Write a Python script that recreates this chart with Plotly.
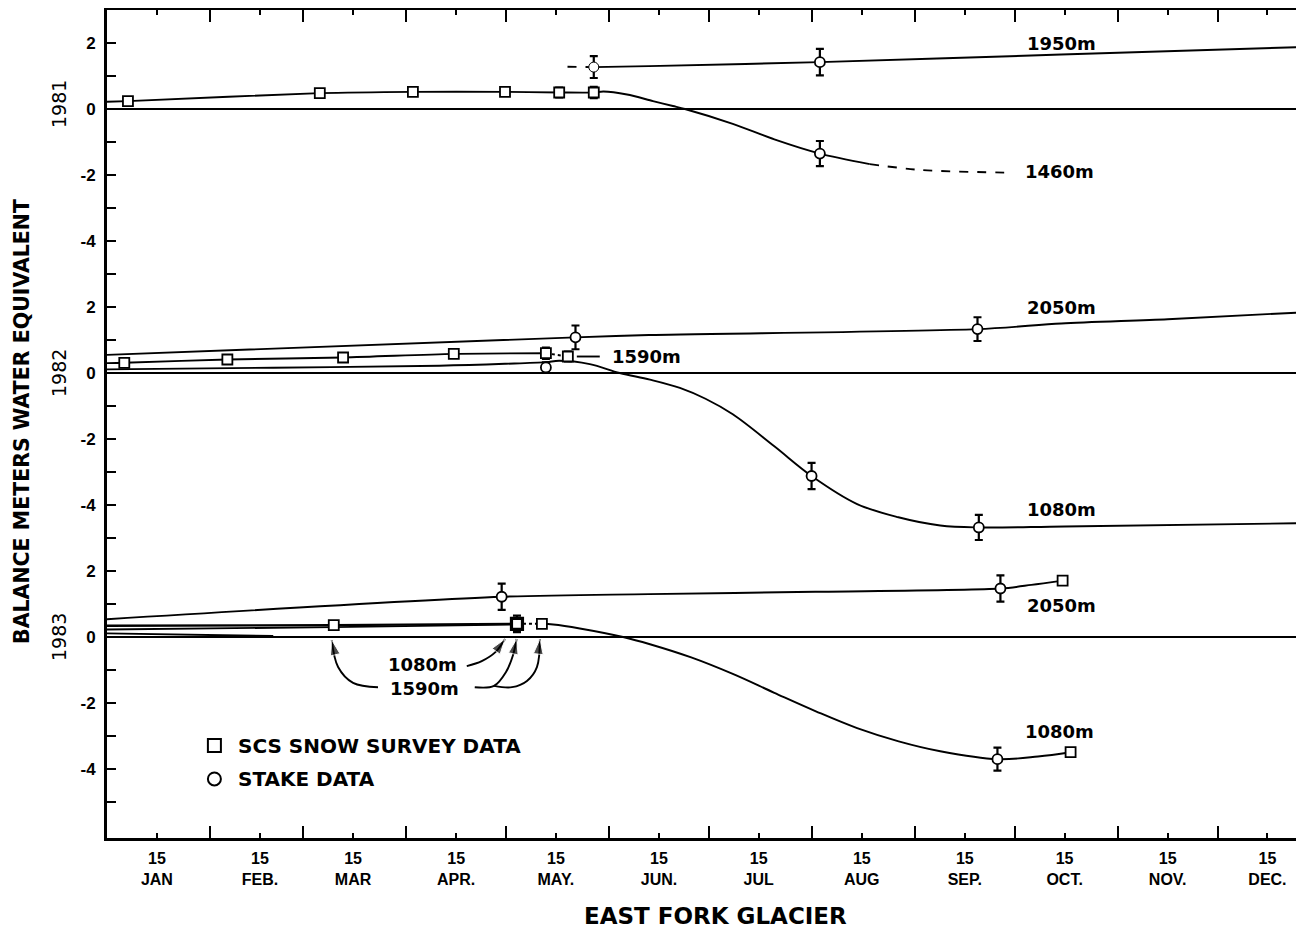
import plotly.graph_objects as go

# ---------------- data ----------------
month_names = ["JAN", "FEB.", "MAR", "APR.", "MAY.", "JUN.", "JUL", "AUG", "SEP.", "OCT.", "NOV.", "DEC."]
month_start_days = [31, 59, 90, 120, 151, 181, 212, 243, 273, 304, 334]
mid_month_days = [15, 46, 74, 105, 135, 166, 196, 227, 258, 288, 319, 349]
years = ["1981", "1982", "1983"]
year_offsets = [16, 8, 0]          # vertical stacking of the three year panels
panel_tick_labels = [-4, -2, 0, 2]

# ---- 1981 ----
d81_1950_est = [138.5, 146.4]
v81_1950_est = [1.28, 1.27]
d81_1950 = [146.4, 163, 214.4, 287, 360]
v81_1950 = [1.27, 1.30, 1.42, 1.65, 1.88]
d81_1460 = [0, 6.3, 64, 92, 119.7, 136, 146.4, 149.3, 156.4, 164.2, 170.2, 173.8, 188.2, 200.7, 214.4, 229.4]
v81_1460 = [0.22, 0.24, 0.48, 0.52, 0.52, 0.50, 0.50, 0.53, 0.44, 0.24, 0.09, 0.0, -0.45, -0.92, -1.35, -1.67]
d81_1460_est = [229.4, 245, 272]
v81_1460_est = [-1.67, -1.85, -1.93]
d81_scs = [6.3, 64, 92, 119.7, 136, 146.4]
v81_scs = [0.24, 0.48, 0.52, 0.52, 0.50, 0.50]
e81_scs = [0, 0, 0, 0, 0.15, 0.17]
d81_stake = [214.4, 214.4]
v81_stake = [1.42, -1.35]
e81_stake = [0.40, 0.38]
d81_stake_est = [146.4]
v81_stake_est = [1.27]
e81_stake_est = [0.33]

# ---- 1982 ----
d82_2050 = [0, 140.9, 163, 261.8, 287, 319, 360]
v82_2050 = [0.55, 1.08, 1.15, 1.33, 1.50, 1.63, 1.84]
d82_1590 = [0, 5.2, 36.2, 71, 104.3, 132]
v82_1590 = [0.30, 0.31, 0.41, 0.47, 0.58, 0.60]
d82_1590_dot = [132, 138.6]
v82_1590_dot = [0.60, 0.50]
d82_1590_lead = [141.3, 148.2]
v82_1590_lead = [0.50, 0.50]
d82_1080 = [0, 50, 100, 120, 132, 136, 145.2, 154.2, 163.3, 172.3, 180, 188.2, 200.7, 211.9, 225.6, 238, 250.6, 262.2, 288, 360]
v82_1080 = [0.11, 0.16, 0.22, 0.28, 0.33, 0.37, 0.27, 0.0, -0.20, -0.45, -0.78, -1.25, -2.22, -3.12, -3.97, -4.37, -4.62, -4.68, -4.65, -4.55]
d82_scs = [5.2, 36.2, 71, 104.3, 132, 138.6]
v82_scs = [0.31, 0.41, 0.47, 0.58, 0.60, 0.50]
e82_scs = [0, 0, 0, 0, 0.17, 0.15]
d82_stake = [140.9, 261.8, 132, 211.9, 262.2]
v82_stake = [1.08, 1.33, 0.17, -3.12, -4.68]
e82_stake = [0.36, 0.36, 0.15, 0.40, 0.38]

# ---- 1983 ----
d83_2050 = [0, 118.7, 163, 213, 268.7, 278, 287.4]
v83_2050 = [0.54, 1.22, 1.30, 1.37, 1.47, 1.58, 1.71]
d83_1590 = [0, 68.2, 123.3]
v83_1590 = [0.34, 0.36, 0.40]
d83_1080w = [0, 68.2, 123.3]
v83_1080w = [0.23, 0.30, 0.38]
d83_low = [0, 50]
v83_low = [0.11, 0.03]
d83_dot = [123.3, 130.8]
v83_dot = [0.40, 0.40]
d83_1080 = [130.8, 134.2, 142.2, 155.2, 163.3, 175.7, 188.2, 200.7, 213.2, 225.6, 238.1, 250.6, 267.8, 280, 289.8]
v83_1080 = [0.40, 0.38, 0.26, 0.0, -0.22, -0.62, -1.12, -1.69, -2.25, -2.76, -3.16, -3.46, -3.70, -3.62, -3.49]
d83_scs = [68.2, 130.8, 287.4, 289.8]
v83_scs = [0.36, 0.40, 1.71, -3.49]
d83_scs_bold = [123.3]
v83_scs_bold = [0.40]
e83_scs_bold = [0.25]
d83_stake = [118.7, 268.7, 267.8]
v83_stake = [1.22, 1.47, -3.70]
e83_stake = [0.40, 0.40, 0.35]

# pointer arrows of the 1983 panel (day, value)
arrow_1080_d = [108.2, 112.7, 116.9, 119.7]
arrow_1080_v = [-0.88, -0.73, -0.45, -0.06]
arrow_1590a_d = [110.6, 116.4, 120.0, 122.1, 123.2]
arrow_1590a_v = [-1.52, -1.48, -1.06, -0.55, -0.06]
arrow_1590b_d = [116.4, 121.8, 126.3, 129.3, 130.2]
arrow_1590b_v = [-1.48, -1.52, -1.33, -0.91, -0.06]
arrow_1590c_d = [81.5, 74.0, 69.5, 67.6]
arrow_1590c_v = [-1.52, -1.39, -0.91, -0.09]

legend_labels = ["SCS SNOW SURVEY DATA", "STAKE DATA"]
x_title = "EAST FORK GLACIER"
y_title = "BALANCE METERS WATER EQUIVALENT"

# ---------------- figure ----------------
BOLD = "DejaVu Sans"
OFF81, OFF82, OFF83 = year_offsets

fig = go.Figure()


def add_line(days, vals, off, dash="solid", width=1.9, smooth=0.8):
    fig.add_trace(go.Scatter(
        x=days, y=[v + off for v in vals], mode="lines",
        line=dict(color="black", width=width, dash=dash, shape="spline", smoothing=smooth),
        hoverinfo="skip", showlegend=False))


def add_points(days, vals, errs, off, symbol, size=10, lw=1.8):
    fig.add_trace(go.Scatter(
        x=days, y=[v + off for v in vals], mode="markers",
        marker=dict(symbol=symbol, size=size, color="white", line=dict(color="black", width=lw)),
        error_y=dict(type="data", array=errs, visible=True, color="black", thickness=2.2, width=4),
        hoverinfo="skip", showlegend=False))


def add_arrow(days, vals, off):
    n = len(days)
    fig.add_trace(go.Scatter(
        x=days, y=[v + off for v in vals], mode="lines+markers",
        line=dict(color="black", width=1.9, shape="spline", smoothing=1.0),
        marker=dict(symbol=["circle"] * (n - 1) + ["arrow"], size=[0] * (n - 1) + [16],
                    angleref="previous", color="black"),
        hoverinfo="skip", showlegend=False))


# panel zero lines
for off in year_offsets:
    fig.add_trace(go.Scatter(x=[0, 360], y=[off, off], mode="lines",
                             line=dict(color="black", width=2), hoverinfo="skip", showlegend=False))

# 1981
add_line(d81_1950_est, v81_1950_est, OFF81, dash="dash")
add_line(d81_1950, v81_1950, OFF81)
add_line(d81_1460, v81_1460, OFF81, smooth=0.8)
add_line(d81_1460_est, v81_1460_est, OFF81, dash="dash")
add_points(d81_stake_est, v81_stake_est, e81_stake_est, OFF81, "circle", size=10, lw=1.0)
add_points(d81_scs, v81_scs, e81_scs, OFF81, "square")
add_points(d81_stake, v81_stake, e81_stake, OFF81, "circle")

# 1982
add_line(d82_2050, v82_2050, OFF82)
add_line(d82_1590, v82_1590, OFF82)
add_line(d82_1590_dot, v82_1590_dot, OFF82, dash="dot")
add_line(d82_1590_lead, v82_1590_lead, OFF82)
add_line(d82_1080, v82_1080, OFF82, smooth=1.0)
add_points(d82_scs, v82_scs, e82_scs, OFF82, "square")
add_points(d82_stake, v82_stake, e82_stake, OFF82, "circle")

# 1983
add_line(d83_2050, v83_2050, OFF83)
add_line(d83_1590, v83_1590, OFF83, width=2.4)
add_line(d83_1080w, v83_1080w, OFF83)
add_line(d83_low, v83_low, OFF83)
add_line(d83_dot, v83_dot, OFF83, dash="dot")
add_line(d83_1080, v83_1080, OFF83, smooth=1.0)
add_points(d83_scs, v83_scs, [0] * len(d83_scs), OFF83, "square")
add_points(d83_scs_bold, v83_scs_bold, e83_scs_bold, OFF83, "square", size=11, lw=3.2)
add_points(d83_stake, v83_stake, e83_stake, OFF83, "circle")

for ad, av in [(arrow_1080_d, arrow_1080_v), (arrow_1590a_d, arrow_1590a_v),
               (arrow_1590b_d, arrow_1590b_v), (arrow_1590c_d, arrow_1590c_v)]:
    add_arrow(ad, av, OFF83)

# legend symbols
fig.add_trace(go.Scatter(x=[32.3, 32.3], y=[-3.29, -4.30], mode="markers",
                         marker=dict(symbol=["square", "circle"], size=13, color="white",
                                     line=dict(color="black", width=2)),
                         hoverinfo="skip", showlegend=False))

# dummy trace for right-hand tick axis
fig.add_trace(go.Scatter(x=[None], y=[None], yaxis="y2", showlegend=False, hoverinfo="skip"))

# ---------------- axes ----------------
ytickvals = list(range(-5, 19))
yticktext = []
for v in ytickvals:
    if v % 2:
        yticktext.append("")
    else:
        lab = v - 16 if v >= 12 else (v - 8 if v >= 4 else v)
        yticktext.append(str(lab) if lab in panel_tick_labels else "")

YR = [-6.09, 19.0]

# the page body adds an 8 px margin, so the figure is 8 px smaller than the window
fig.update_layout(
    width=1296, height=923,
    margin=dict(l=99, r=0, t=2, b=93),
    paper_bgcolor="white", plot_bgcolor="white",
    showlegend=False,
    xaxis=dict(range=[0, 360], showgrid=False, zeroline=False,
               showline=True, linecolor="black", linewidth=3, mirror="ticks",
               ticks="inside", ticklen=5, tickwidth=2, tickcolor="black",
               tickmode="array", tickvals=mid_month_days,
               ticktext=["15<br>" + m for m in month_names],
               tickfont=dict(family="Liberation Sans", size=16, color="black", weight="bold"),
               ticklabelstandoff=4,
               minor=dict(tickmode="array", tickvals=month_start_days, ticks="inside",
                          ticklen=12, tickwidth=2, tickcolor="black", showgrid=False)),
    yaxis=dict(range=YR, showgrid=False, zeroline=False,
               showline=True, linecolor="black", linewidth=3, mirror=False,
               ticks="inside", ticklen=9, tickwidth=2, tickcolor="black",
               tickmode="array", tickvals=ytickvals, ticktext=yticktext,
               tickfont=dict(family="Liberation Sans", size=17, color="black", weight="bold"),
               ticklabelstandoff=5),
    yaxis2=dict(range=YR, overlaying="y", side="right", showgrid=False, zeroline=False,
                showline=False, ticks="inside", ticklen=6, tickwidth=2, tickcolor="black",
                tickmode="array", tickvals=ytickvals, showticklabels=False),
)

# ---------------- annotations ----------------
ann = []
lab_font = dict(family=BOLD, size=18, color="black", weight="bold")
label_specs = [("1950m", 287.0, 2.0 + OFF81, "center"),
               ("1460m", 286.5, -1.88 + OFF81, "center"),
               ("2050m", 287.0, 1.98 + OFF82, "center"),
               ("1590m", 151.2, 0.49 + OFF82, "left"),
               ("1080m", 287.0, -4.15 + OFF82, "center"),
               ("2050m", 287.0, 0.95 + OFF83, "center"),
               ("1080m", 286.5, -2.87 + OFF83, "center"),
               ("1080m", 95.0, -0.82 + OFF83, "center"),
               ("1590m", 95.6, -1.55 + OFF83, "center")]
for t, x, y, xa in label_specs:
    ann.append(dict(text=t, x=x, y=y, xref="x", yref="y", xanchor=xa, yanchor="middle",
                    showarrow=False, font=lab_font))

# legend text
for t, y in zip(legend_labels, [-3.29, -4.30]):
    ann.append(dict(text=t, x=38.8, y=y, xref="x", yref="y", xanchor="left", yanchor="middle",
                    showarrow=False, font=dict(family=BOLD, size=20, color="black", weight="bold")))

# year labels
for yr, off, dy in zip(years, year_offsets, [0.15, 0, 0]):
    ann.append(dict(text=yr, x=(59 - 107) / 1197, y=off + dy, xref="paper", yref="y",
                    textangle=-90, showarrow=False, xanchor="center", yanchor="middle",
                    font=dict(family="DejaVu Sans", size=19, color="black")))

# axis titles
ann.append(dict(text=y_title, x=(22 - 107) / 1197, y=(838 - 422) / 828, xref="paper", yref="paper",
                textangle=-90, showarrow=False, xanchor="center", yanchor="middle",
                font=dict(family=BOLD, size=20.5, color="black", weight="bold")))
ann.append(dict(text=x_title, x=(715 - 107) / 1197, y=(838 - 916) / 828, xref="paper", yref="paper",
                showarrow=False, xanchor="center", yanchor="middle",
                font=dict(family=BOLD, size=23, color="black", weight="bold")))

fig.update_layout(annotations=ann)

fig.write_html("out.html")
